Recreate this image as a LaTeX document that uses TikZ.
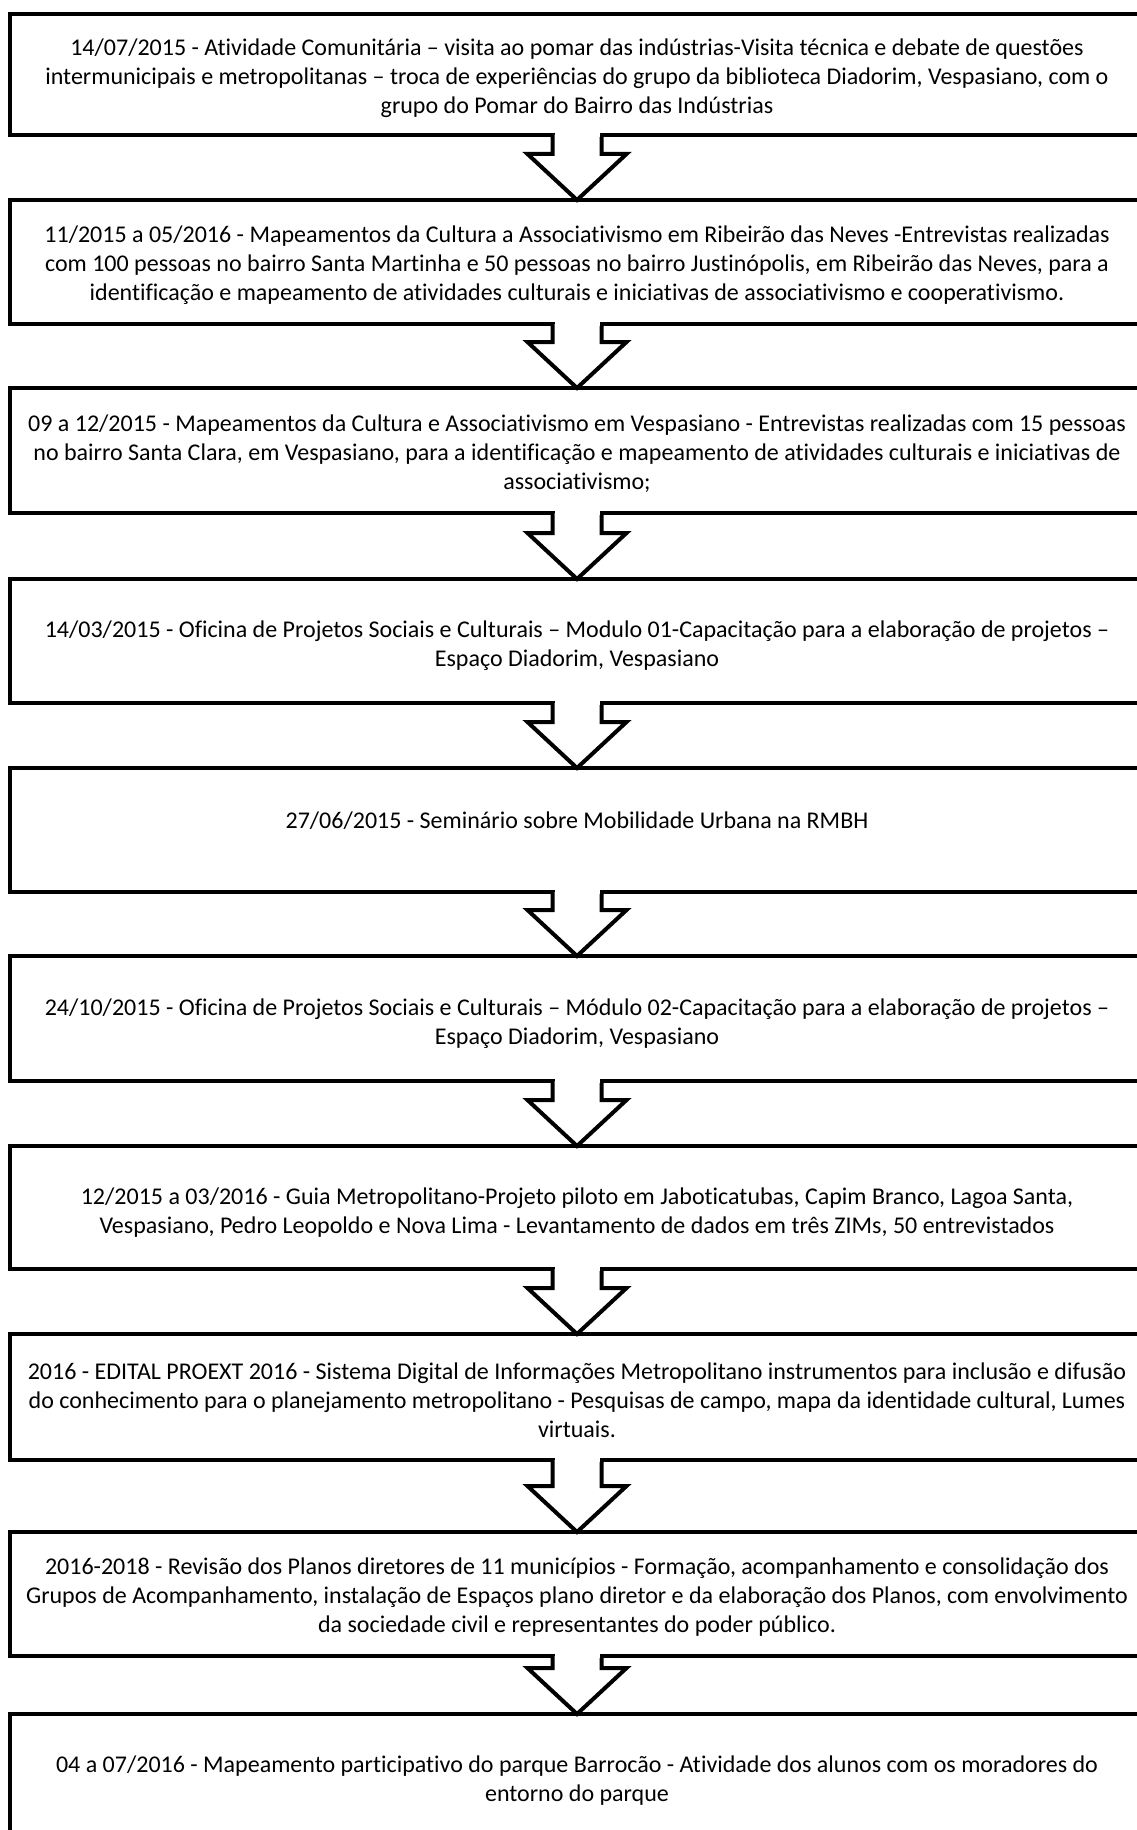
\documentclass[tikz,border=0pt]{standalone}
\usepackage{fontspec}
\setmainfont[Ligatures={NoCommon}]{Carlito}
\usetikzlibrary{calc}
\tikzset{
  stagebox/.style={draw, line width=4pt, outer sep=0pt, inner sep=0pt, minimum width=1134pt},
  stagetext/.style={align=center, inner sep=0pt, font=\fontsize{24}{29}\selectfont},
  blockarrow/.style={draw, line width=4pt, fill=white, line join=miter},
}
\newcommand{\stagearrow}[2]{%
  \filldraw[blockarrow] ($(#1.south)+(-24.5,0)$) -- ($(#2.north)+(-24.5,-46)$) -- ($(#2.north)+(-49.5,-46)$)
    -- (#2.north) -- ($(#2.north)+(49.5,-46)$) -- ($(#2.north)+(24.5,-46)$) -- ($(#1.south)+(24.5,0)$);
  \fill[white] ($(#1.south)+(-22.5,-3)$) rectangle ($(#1.south)+(22.5,2)$);
}
\begin{document}
\begin{tikzpicture}[x=1pt,y=-1pt]
\useasboundingbox (0,0) rectangle (1137,1830);
\clip (0,0) rectangle (1137,1830);
\node[stagebox, minimum height=121pt] (b1) at (577,74.5) {};
\node[stagebox, minimum height=124pt] (b2) at (577,262) {};
\node[stagebox, minimum height=125pt] (b3) at (577,450.5) {};
\node[stagebox, minimum height=124pt] (b4) at (577,641) {};
\node[stagebox, minimum height=124pt] (b5) at (577,830) {};
\node[stagebox, minimum height=125pt] (b6) at (577,1018.5) {};
\node[stagebox, minimum height=123pt] (b7) at (577,1207.5) {};
\node[stagebox, minimum height=126pt] (b8) at (577,1397) {};
\node[stagebox, minimum height=124pt] (b9) at (577,1594) {};
\node[stagebox, minimum height=124pt] (b10) at (577,1776) {};
\node[stagetext] (t1) at ($(b1.center)+(0,3.5)$) {14/07/2015 - Atividade Comunitária – visita ao pomar das indústrias-Visita técnica e debate de questões\\intermunicipais e metropolitanas – troca de experiências do grupo da biblioteca Diadorim, Vespasiano, com o\\grupo do Pomar do Bairro das Indústrias};
\node[stagetext] (t2) at ($(b2.center)+(0,3.5)$) {11/2015 a 05/2016 - Mapeamentos da Cultura a Associativismo em Ribeirão das Neves -Entrevistas realizadas\\com 100 pessoas no bairro Santa Martinha e 50 pessoas no bairro Justinópolis, em Ribeirão das Neves, para a\\identificação e mapeamento de atividades culturais e iniciativas de associativismo e cooperativismo.};
\node[stagetext] (t3) at ($(b3.center)+(0,3.5)$) {09 a 12/2015 - Mapeamentos da Cultura e Associativismo em Vespasiano - Entrevistas realizadas com 15 pessoas\\no bairro Santa Clara, em Vespasiano, para a identificação e mapeamento de atividades culturais e iniciativas de\\associativismo;};
\node[stagetext] (t4) at ($(b4.center)+(0,5)$) {14/03/2015 - Oficina de Projetos Sociais e Culturais – Modulo 01-Capacitação para a elaboração de projetos –\\Espaço Diadorim, Vespasiano};
\node[stagetext] (t5) at ($(b5.center)+(0,-9)$) {27/06/2015 - Seminário sobre Mobilidade Urbana na RMBH};
\node[stagetext] (t6) at ($(b6.center)+(0,5)$) {24/10/2015 - Oficina de Projetos Sociais e Culturais – Módulo 02-Capacitação para a elaboração de projetos –\\Espaço Diadorim, Vespasiano};
\node[stagetext] (t7) at ($(b7.center)+(0,5)$) {12/2015 a 03/2016 - Guia Metropolitano-Projeto piloto em Jaboticatubas, Capim Branco, Lagoa Santa,\\Vespasiano, Pedro Leopoldo e Nova Lima - Levantamento de dados em três ZIMs, 50 entrevistados};
\node[stagetext] (t8) at ($(b8.center)+(0,3.5)$) {2016 - EDITAL PROEXT 2016 - Sistema Digital de Informações Metropolitano instrumentos para inclusão e difusão\\do conhecimento para o planejamento metropolitano - Pesquisas de campo, mapa da identidade cultural, Lumes\\virtuais.};
\node[stagetext] (t9) at ($(b9.center)+(0,3.5)$) {2016-2018 - Revisão dos Planos diretores de 11 municípios - Formação, acompanhamento e consolidação dos\\Grupos de Acompanhamento, instalação de Espaços plano diretor e da elaboração dos Planos, com envolvimento\\da sociedade civil e representantes do poder público.};
\node[stagetext] (t10) at ($(b10.center)+(0,5)$) {04 a 07/2016 - Mapeamento participativo do parque Barrocão - Atividade dos alunos com os moradores do\\entorno do parque};
\stagearrow{b1}{b2}
\stagearrow{b2}{b3}
\stagearrow{b3}{b4}
\stagearrow{b4}{b5}
\stagearrow{b5}{b6}
\stagearrow{b6}{b7}
\stagearrow{b7}{b8}
\stagearrow{b8}{b9}
\stagearrow{b9}{b10}
\end{tikzpicture}
\end{document}
